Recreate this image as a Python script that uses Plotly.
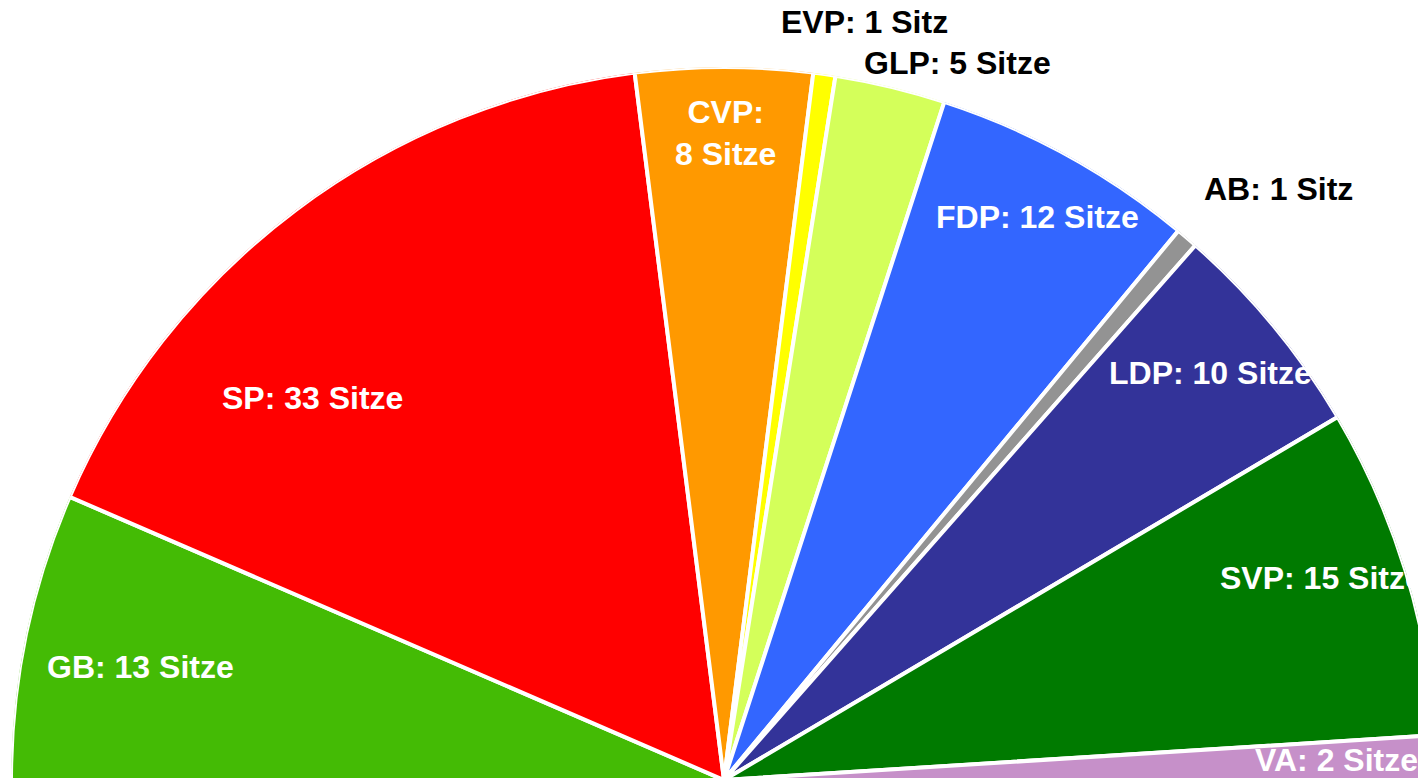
import math
import plotly.graph_objects as go

parties = ["GB", "SP", "CVP", "EVP", "GLP", "FDP", "AB", "LDP", "SVP", "VA"]
seats = [13, 33, 8, 1, 5, 12, 1, 10, 15, 2]
labels = ["GB: 13 Sitze", "SP: 33 Sitze", "CVP:<br>8 Sitze", "EVP: 1 Sitz", "GLP: 5 Sitze",
          "FDP: 12 Sitze", "AB: 1 Sitz", "LDP: 10 Sitze", "SVP: 15 Sitze", "VA: 2 Sitze"]
colors = ["#44bb05", "#ff0000", "#ff9900", "#ffff00", "#d4ff5a",
          "#3366ff", "#939393", "#333399", "#007a00", "#c690c9"]

# label style: radial fraction, angle nudge (deg), text colour
label_r = [0.834, 0.788, 0.907, 1.081, 1.058, 0.904, 1.137, 0.890, 0.884, 0.859]
label_dtheta = [0.75, 10.26, -0.1, -2.44, -4.57, -0.35, -2.7, 0.28, 1.6, 0.07]
label_color = ["white", "white", "white", "black", "black", "white", "black", "white", "white", "white"]

# geometry (pixels)
W, H = 1432, 779
R_PX = 713
BASE = 7  # pixels between figure bottom and half-circle baseline

total = sum(seats)
deg_per_seat = 180.0 / total
theta_mid = []
widths = []
acc = 0
for s in seats:
    theta_mid.append(180 - deg_per_seat * (acc + s / 2))
    widths.append(deg_per_seat * s)
    acc += s

fig = go.Figure()
fig.add_trace(go.Barpolar(
    r=[1] * len(seats), theta=theta_mid, width=widths,
    marker=dict(color=colors, line=dict(color="white", width=4)),
    hoverinfo="text", hovertext=labels, showlegend=False,
))
# helper cartesian axes sharing the polar centre/radius (for labels)
fig.add_trace(go.Scatter(x=[], y=[], mode="markers", showlegend=False, hoverinfo="skip"))

for lab, r, th, dth, col in zip(labels, label_r, theta_mid, label_dtheta, label_color):
    a = math.radians(th + dth)
    fig.add_annotation(
        x=r * math.cos(a), y=r * math.sin(a), xref="x", yref="y",
        text=lab, showarrow=False, xanchor="center", yanchor="middle",
        font=dict(family="Liberation Sans, Arial, sans-serif", size=32, color=col, weight="bold"),
    )

fig.update_layout(
    width=W, height=H,
    margin=dict(l=0, r=0, t=0, b=0),
    paper_bgcolor="white", plot_bgcolor="rgba(0,0,0,0)",
    xaxis=dict(domain=[0, 1], range=[-(W / 2) / R_PX, (W / 2) / R_PX], visible=False, fixedrange=True),
    yaxis=dict(domain=[0, 1], range=[-BASE / R_PX, (H - BASE) / R_PX], visible=False, fixedrange=True),
    polar=dict(
        domain=dict(x=[0, 1], y=[BASE / H, (BASE + R_PX) / H]),
        sector=[0, 180],
        bgcolor="white",
        bargap=0,
        radialaxis=dict(range=[0, 1], visible=False, showgrid=False),
        angularaxis=dict(visible=False, showgrid=False, direction="counterclockwise", rotation=0),
    ),
)
fig.write_html("out.html")
